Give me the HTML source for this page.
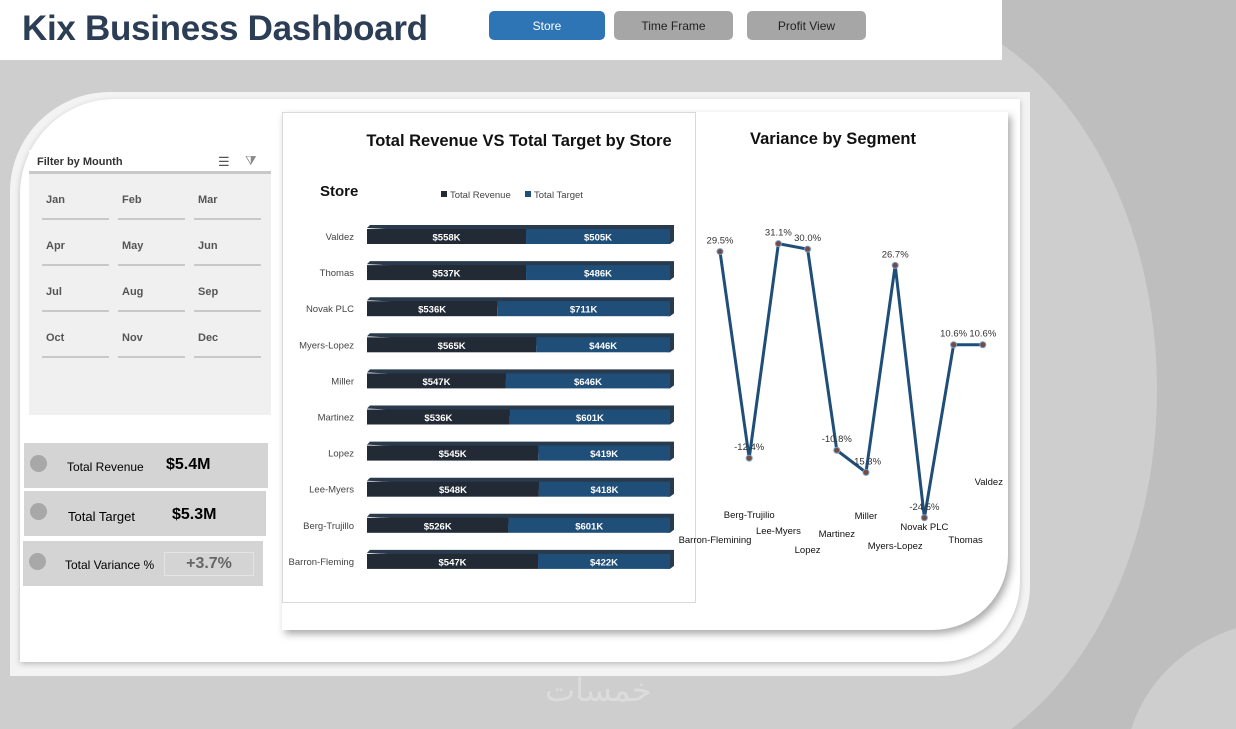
<!DOCTYPE html>
<html><head><meta charset="utf-8">
<style>
*{margin:0;padding:0;box-sizing:border-box}
html,body{width:1236px;height:729px;overflow:hidden}
body{background:#cfcecf;font-family:"Liberation Sans",sans-serif;position:relative}
.abs{position:absolute}
.btn{position:absolute;top:11px;height:29px;border-radius:5px;font-size:12px;display:flex;align-items:center;justify-content:center;color:#222}
.mon{position:absolute;width:67px;height:33px;border-bottom:2px solid #c8c8c8;font-size:11px;font-weight:bold;color:#555;padding:7px 0 0 4px}
.kpi{position:absolute;background:#d4d4d4;left:24px}
.dot{position:absolute;width:17px;height:17px;border-radius:50%;background:#a8a8a8;left:6px;top:12px}
</style></head><body>
<svg class="abs" style="left:0;top:0" width="1236" height="729">
<rect x="1002" y="0" width="234" height="729" fill="#bebebe"/>
<ellipse cx="880" cy="390" rx="277" ry="385" fill="#cfcecf"/>
<ellipse cx="1290" cy="770" rx="165" ry="150" fill="#cfcecf"/>
<rect x="0" y="60" width="1002" height="40" fill="#cfcecf"/>
</svg>
<div class="abs" style="left:0;top:0;width:1002px;height:60px;background:#fff"></div>
<div class="abs" style="left:22px;top:9px;font-size:35px;font-weight:bold;color:#2b3e55;letter-spacing:-0.3px">Kix Business Dashboard</div>
<div class="btn" style="left:489px;width:116px;background:#2e75b6;color:#fff">Store</div>
<div class="btn" style="left:614px;width:119px;background:#a6a6a6">Time Frame</div>
<div class="btn" style="left:747px;width:119px;background:#a6a6a6">Profit View</div>

<div class="abs" style="left:10px;top:92px;width:1020px;height:584px;background:#f3f3f3;border-radius:100px 0 90px 0"></div>
<div class="abs" style="left:20px;top:99px;width:1000px;height:563px;background:#fff;border-radius:95px 0 80px 0;box-shadow:0 2px 6px #bbb"></div>

<div class="abs" style="left:29px;top:150px;width:242px;height:265px;background:#f0f0f0">
 <div style="height:24px;border-bottom:3px solid #c8c8c8;background:#fff;font-size:11px;font-weight:bold;color:#333;padding:6px 0 0 8px">Filter by Mounth</div>
 <div class="abs" style="left:189px;top:4px;font-size:13px;color:#555">☰</div>
 <div class="abs" style="left:216px;top:3px;font-size:13px;color:#888">⧩</div>
</div>

<div class="kpi" style="top:443px;width:244px;height:45px"><div class="dot"></div><span class="abs" style="left:43px;top:17px;font-size:12px">Total Revenue</span><span class="abs" style="left:142px;top:13px;font-size:16px;font-weight:bold">$5.4M</span></div>
<div class="kpi" style="top:491px;width:242px;height:45px"><div class="dot"></div><span class="abs" style="left:44px;top:18px;font-size:13px">Total Target</span><span class="abs" style="left:148px;top:15px;font-size:16px;font-weight:bold">$5.3M</span></div>
<div class="kpi" style="left:23px;top:541px;width:240px;height:45px"><div class="dot"></div><span class="abs" style="left:42px;top:17px;font-size:12px">Total Variance %</span><div class="abs" style="left:141px;top:11px;width:90px;height:24px;border:1px solid #e4e4e4;font-size:16px;font-weight:bold;color:#666;text-align:center;line-height:22px">+3.7%</div></div>

<div class="abs" style="left:282px;top:112px;width:726px;height:518px;background:#fff;border-radius:0 0 75px 0;box-shadow:3px 4px 8px #aaa"></div>
<div class="abs" style="left:282px;top:112px;width:414px;height:491px;border:1px solid #d9d9d9"></div>

<svg class="abs" style="left:0;top:0" width="1236" height="729" id="charts">
<text x="519" y="146" text-anchor="middle" font-size="16.5" font-weight="bold" fill="#111">Total Revenue VS Total Target by Store</text>
<text x="320" y="196" font-size="15" font-weight="bold" fill="#111">Store</text>
<rect x="441" y="191" width="6" height="6" fill="#222a35"/>
<text x="450" y="198" font-size="9.5" fill="#444">Total Revenue</text>
<rect x="525" y="191" width="6" height="6" fill="#1f4e79"/>
<text x="534" y="198" font-size="9.5" fill="#444">Total Target</text>
<text x="833" y="144" text-anchor="middle" font-size="16.5" font-weight="bold" fill="#111">Variance by Segment</text>
<g id="bars"></g><g id="line"></g>
</svg>

<div class="abs" style="left:545px;top:670px;font-size:32px;line-height:40px;color:#dcdcdc;font-family:'DejaVu Sans',sans-serif">خمسات</div>

<script>
const months=["Jan","Feb","Mar","Apr","May","Jun","Jul","Aug","Sep","Oct","Nov","Dec"];
const stores=["Valdez","Thomas","Novak PLC","Myers-Lopez","Miller","Martinez","Lopez","Lee-Myers","Berg-Trujillo","Barron-Fleming"];
const revenue=[558,537,536,565,547,536,545,548,526,547];
const target=[505,486,711,446,646,601,419,418,601,422];
const segments=["Barron-Flemining","Berg-Trujilio","Lee-Myers","Lopez","Martinez","Miller","Myers-Lopez","Novak PLC","Thomas","Valdez"];
const variance=[29.5,-12.4,31.1,30.0,-10.8,-15.3,26.7,-24.5,10.6,10.6];

const NS="http://www.w3.org/2000/svg";
function mk(tag,attrs,parent){const e=document.createElementNS(NS,tag);for(const k in attrs)e.setAttribute(k,attrs[k]);parent.appendChild(e);return e;}

months.forEach((m,i)=>{const d=document.createElement('div');d.className='mon';


d.style.left=(42+(i%3)*76)+'px';d.style.top=(187+Math.floor(i/3)*46)+'px';d.textContent=m;document.body.appendChild(d);});

const bx0=367,bw=303,by0=236,bstep=36.1,bh=16;
const xs=f=>bx0+f*bw, ys=i=>by0+i*bstep;
const bg=document.getElementById('bars');
stores.forEach((s,i)=>{
 const tot=revenue[i]+target[i], xm=xs(revenue[i]/tot), y=ys(i);
 const t=mk('text',{x:354,y:y+4,'text-anchor':'end','font-size':9.5,fill:'#444'},bg);t.textContent=s;
 
 
 const top=mk('polygon',{points:`${bx0},${y-bh/2} ${bx0+3},${y-bh/2-3} ${xs(1)+4},${y-bh/2-3} ${xs(1)+4},${y+bh/2-3} ${xs(1)},${y+bh/2}`,fill:'#2a3a4d'},bg);
 
 
 const r1=mk('rect',{x:bx0,y:y-bh/2+1,width:xm-bx0,height:bh-1,fill:'#222a35'},bg);
 
 
 const r2=mk('rect',{x:xm,y:y-bh/2+1,width:xs(1)-xm,height:bh-1,fill:'#1f4e79'},bg);
 
 
 const l1=mk('text',{x:(bx0+xm)/2,y:y+4.5,'text-anchor':'middle','font-size':9.5,'font-weight':'bold',fill:'#fff'},bg);l1.textContent='$'+revenue[i]+'K';
 
 
 const l2=mk('text',{x:(xm+xs(1))/2,y:y+4.5,'text-anchor':'middle','font-size':9.5,'font-weight':'bold',fill:'#fff'},bg);l2.textContent='$'+target[i]+'K';
 
 
});

const lx=i=>720+i*29.2, ly=v=>397-v*4.93;
const lg=document.getElementById('line');
const pl=mk('polyline',{points:variance.map((v,i)=>lx(i)+','+ly(v)).join(' '),fill:'none',stroke:'#1f4e79','stroke-width':3,'stroke-linejoin':'miter'},lg);


const catY=[540,515,531,550,534,516,546,527,540,482];
variance.forEach((v,i)=>{
 const c=mk('circle',{cx:lx(i),cy:ly(v),r:3,fill:'#7b4a3a',stroke:'#6fa0d0','stroke-width':1},lg);
 
 
 const t=mk('text',{x:lx(i),y:ly(v)-8,'text-anchor':'middle','font-size':9.5,fill:'#333'},lg);t.textContent=v.toFixed(1)+'%';
 
 
 const c2=mk('text',{x:lx(i)-(i==0?5:i==9?-6:0)+(i==8?12:0),y:catY[i]+3,'text-anchor':'middle','font-size':9.5,fill:'#111'},lg);c2.textContent=segments[i];
 
 
});
</script>
</body></html>
